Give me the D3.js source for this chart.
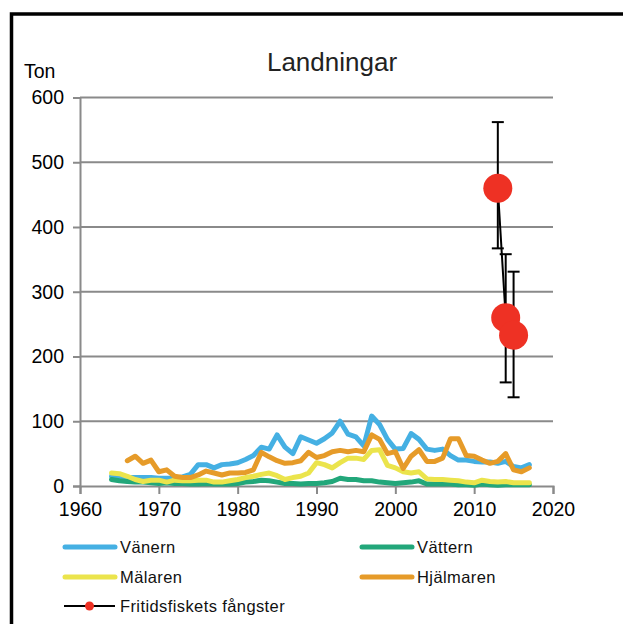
<!DOCTYPE html>
<html>
<head>
<meta charset="utf-8">
<script src="https://cdn.jsdelivr.net/npm/d3@7"></script>
<style>
  html, body { margin: 0; padding: 0; background: #fff; }
  svg { display: block; font-family: "Liberation Sans", Arial, sans-serif; }
</style>
</head>
<body>
<svg id="chart" width="623" height="624"></svg>
<script>
// Landings per lake, tonnes per year
const years = [1964,1965,1966,1967,1968,1969,1970,1971,1972,1973,1974,1975,1976,1977,1978,1979,
  1980,1981,1982,1983,1984,1985,1986,1987,1988,1989,1990,1991,1992,1993,1994,1995,1996,1997,1998,1999,
  2000,2001,2002,2003,2004,2005,2006,2007,2008,2009,2010,2011,2012,2013,2014,2015,2016,2017];

const vanern = [15,14,13,13,13,13,12,12,12,14,18,33,33,28,33,34,
  36,41,47,60,57,79,60,50,76,71,66,73,82,100,80,76,62,108,95,72,
  57,58,81,72,57,55,57,47,40,40,38,37,37,35,38,30,28,33];

const vattern = [10,8,7,6,6,5,4,5,4,4,3,3,4,3,3,3,
  4,6,7,9,8,6,4,4,3,4,4,5,7,12,10,10,8,8,6,5,
  4,5,6,8,3,3,3,3,2,2,1,3,2,1,2,2,2,2];

const malaren = [20,19,15,10,7,9,9,6,9,8,8,9,9,6,6,8,
  10,13,15,18,20,16,10,13,15,20,36,33,28,36,43,43,41,55,56,32,
  28,22,20,22,11,10,10,9,8,6,5,9,7,6,7,5,5,5];

const hjalmaren = [null,null,39,46,35,40,22,25,15,13,13,17,23,20,17,20,
  20,21,25,52,45,39,35,36,39,52,44,47,53,55,53,55,53,79,72,50,
  53,27,46,56,38,38,43,73,73,47,46,40,35,38,50,25,22,28];

// Recreational fishery catch estimates with confidence limits
const fritidYears = [2013, 2014, 2015];
const fritidValues = [460, 260, 233];
const fritidLow = [367, 160, 137];
const fritidHigh = [562, 358, 331];

const yTicks = [0, 100, 200, 300, 400, 500, 600];
const xTicks = [1960, 1970, 1980, 1990, 2000, 2010, 2020];

const seriesNames = ["Vänern", "Vättern", "Mälaren", "Hjälmaren"];
const seriesColors = ["#45b0e3", "#22a77a", "#ebe44c", "#e69b29"];
const seriesData = [vanern, vattern, malaren, hjalmaren];
const fritidName = "Fritidsfiskets fångster";

const svg = d3.select("#chart");

// outer frame
svg.append("rect")
  .attr("x", 11.5).attr("y", 14)
  .attr("width", 700).attr("height", 700)
  .attr("fill", "none").attr("stroke", "#000").attr("stroke-width", 3.5);

const x = d3.scaleLinear().domain([1960, 2020]).range([80, 553]);
const y = d3.scaleLinear().domain([0, 600]).range([486, 97.5]);

const gridColor = "#8a8a8a";

// horizontal gridlines
svg.append("g")
  .selectAll("line")
  .data(yTicks.filter(d => d > 0))
  .join("line")
  .attr("x1", x(1960)).attr("x2", x(2020))
  .attr("y1", d => y(d)).attr("y2", d => y(d))
  .attr("stroke", gridColor).attr("stroke-width", 2);

// y axis
const yAxis = svg.append("g")
  .attr("transform", `translate(${x(1960)},0)`)
  .call(d3.axisLeft(y).tickValues(yTicks).tickSize(7).tickPadding(9).tickFormat(d3.format("d")));
yAxis.select(".domain").attr("stroke", gridColor).attr("stroke-width", 2);
yAxis.selectAll(".tick line").attr("stroke", gridColor).attr("stroke-width", 2);
yAxis.selectAll(".tick text")
  .attr("fill", "#000").attr("font-size", 19.5)
  .attr("font-family", "Liberation Sans, Arial, sans-serif");

// x axis
const xAxis = svg.append("g")
  .attr("transform", `translate(0,${y(0)})`)
  .call(d3.axisBottom(x).tickValues(xTicks).tickSize(8).tickPadding(8).tickFormat(d3.format("d")));
xAxis.select(".domain").attr("stroke", gridColor).attr("stroke-width", 2);
xAxis.selectAll(".tick line").attr("stroke", gridColor).attr("stroke-width", 2);
xAxis.selectAll(".tick text")
  .attr("fill", "#000").attr("font-size", 19.5)
  .attr("font-family", "Liberation Sans, Arial, sans-serif");

// lake series
const line = d3.line()
  .defined(d => d.v !== null)
  .x(d => x(d.year))
  .y(d => y(d.v));

seriesData.forEach((vals, i) => {
  svg.append("path")
    .datum(years.map((yr, k) => ({ year: yr, v: vals[k] })))
    .attr("d", line)
    .attr("fill", "none")
    .attr("stroke", seriesColors[i])
    .attr("stroke-width", 5)
    .attr("stroke-linejoin", "round")
    .attr("stroke-linecap", "round");
});

// recreational catch: error bars, connecting line, markers
const fritid = fritidYears.map((yr, k) => ({ year: yr, v: fritidValues[k], lo: fritidLow[k], hi: fritidHigh[k] }));
const eb = svg.append("g").attr("stroke", "#000").attr("stroke-width", 2);
fritid.forEach(d => {
  eb.append("line").attr("x1", x(d.year)).attr("x2", x(d.year)).attr("y1", y(d.lo)).attr("y2", y(d.hi));
  eb.append("line").attr("x1", x(d.year) - 6).attr("x2", x(d.year) + 6).attr("y1", y(d.lo)).attr("y2", y(d.lo));
  eb.append("line").attr("x1", x(d.year) - 6).attr("x2", x(d.year) + 6).attr("y1", y(d.hi)).attr("y2", y(d.hi));
});
svg.append("path")
  .datum(fritid)
  .attr("d", d3.line().x(d => x(d.year)).y(d => y(d.v)))
  .attr("fill", "none").attr("stroke", "#000").attr("stroke-width", 2);
svg.append("g")
  .selectAll("circle")
  .data(fritid)
  .join("circle")
  .attr("cx", d => x(d.year)).attr("cy", d => y(d.v))
  .attr("r", 14.5)
  .attr("fill", "#ee3124");

// title and unit label
svg.append("text")
  .attr("x", 332).attr("y", 71)
  .attr("text-anchor", "middle")
  .attr("font-size", 26)
  .attr("fill", "#222")
  .text("Landningar");
svg.append("text")
  .attr("x", 24).attr("y", 78)
  .attr("font-size", 19.5)
  .attr("fill", "#000")
  .text("Ton");

// legend
const legendItems = [
  { name: seriesNames[0], color: seriesColors[0], lx: 63, ly: 547 },
  { name: seriesNames[1], color: seriesColors[1], lx: 360, ly: 547 },
  { name: seriesNames[2], color: seriesColors[2], lx: 63, ly: 577 },
  { name: seriesNames[3], color: seriesColors[3], lx: 360, ly: 577 }
];
const legend = svg.append("g");
legendItems.forEach(it => {
  legend.append("line")
    .attr("x1", it.lx + 2).attr("x2", it.lx + 52)
    .attr("y1", it.ly).attr("y2", it.ly)
    .attr("stroke", it.color).attr("stroke-width", 5).attr("stroke-linecap", "round");
  legend.append("text")
    .attr("x", it.lx + 57).attr("y", it.ly + 6)
    .attr("font-size", 16.5).attr("letter-spacing", 0.4)
    .attr("fill", "#111")
    .text(it.name);
});
legend.append("line")
  .attr("x1", 64).attr("x2", 115).attr("y1", 606).attr("y2", 606)
  .attr("stroke", "#000").attr("stroke-width", 2);
legend.append("circle").attr("cx", 89.5).attr("cy", 606).attr("r", 4.5).attr("fill", "#ee3124");
legend.append("text")
  .attr("x", 120).attr("y", 612)
  .attr("font-size", 16.5).attr("letter-spacing", 0.4)
  .attr("fill", "#111")
  .text(fritidName);
</script>
</body>
</html>
